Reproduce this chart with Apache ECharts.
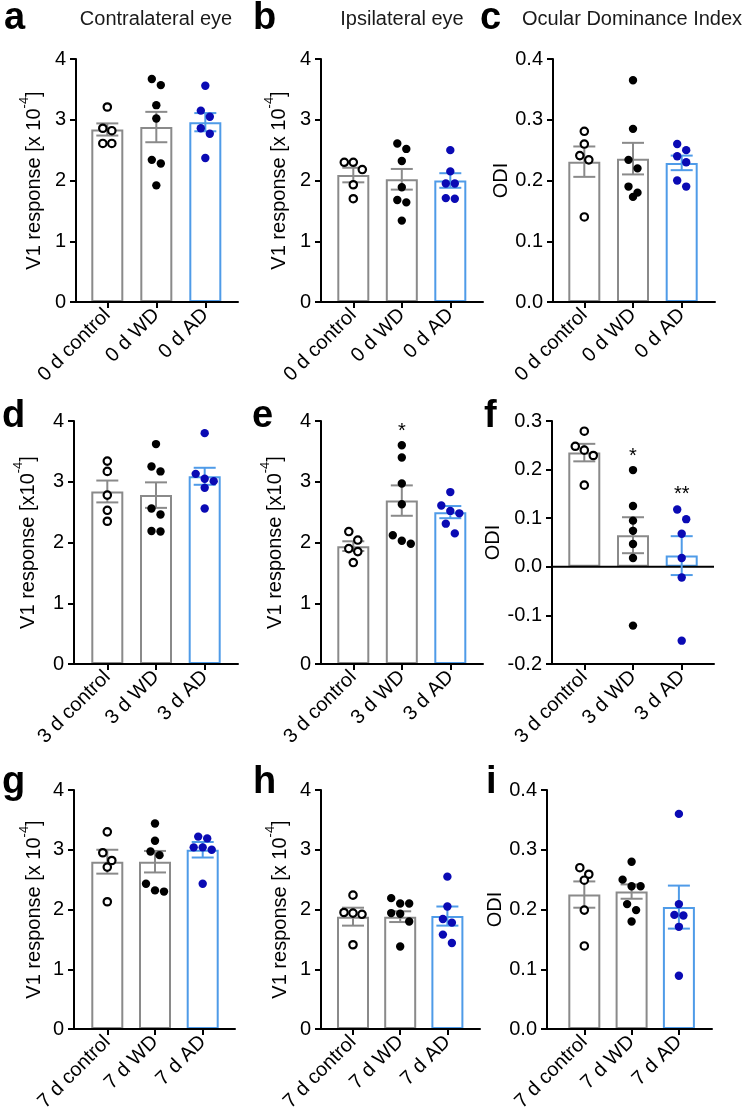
<!DOCTYPE html>
<html>
<head>
<meta charset="utf-8">
<script src="https://cdn.jsdelivr.net/npm/echarts@6/dist/echarts.min.js"></script>
<style>
html,body{margin:0;padding:0;background:#fff;}
#chart{width:745px;height:1119px;}
</style>
</head>
<body>
<div id="chart"></div>
<script>
// ---------- categories ----------
const cat0 = ['0 d control', '0 d WD', '0 d AD'];
const cat3 = ['3 d control', '3 d WD', '3 d AD'];
const cat7 = ['7 d control', '7 d WD', '7 d AD'];

// ---------- panel a (contralateral, 0 d) ----------
const aCtrl = [3.21, 2.86, 2.82, 2.61, 2.61];
const aWD   = [3.67, 3.57, 3.24, 3.02, 2.34, 2.28, 1.92];
const aAD   = [3.56, 3.15, 3.05, 2.86, 2.77, 2.37];
const aMean = [2.84, 2.88, 2.96];
const aSem  = [0.10, 0.25, 0.15];
// ---------- panel b (ipsilateral, 0 d) ----------
const bCtrl = [2.30, 2.30, 2.18, 1.93, 1.70];
const bWD   = [2.61, 2.52, 2.32, 1.89, 1.68, 1.64, 1.34];
const bAD   = [2.50, 2.15, 1.95, 1.95, 1.71, 1.70];
const bMean = [2.09, 2.02, 2.00];
const bSem  = [0.12, 0.17, 0.12];
// ---------- panel c (ODI, 0 d) ----------
const cCtrl = [0.281, 0.260, 0.241, 0.234, 0.140];
const cWD   = [0.365, 0.285, 0.234, 0.220, 0.190, 0.180, 0.173];
const cAD   = [0.260, 0.250, 0.240, 0.230, 0.200, 0.190];
const cMean = [0.231, 0.236, 0.229];
const cSem  = [0.025, 0.026, 0.012];
// ---------- panel d (contralateral, 3 d) ----------
const dCtrl = [3.34, 3.17, 2.78, 2.53, 2.35];
const dWD   = [3.62, 3.25, 3.17, 2.56, 2.46, 2.19, 2.18];
const dAD   = [3.80, 3.13, 3.05, 3.01, 2.90, 2.56];
const dMean = [2.84, 2.78, 3.09];
const dSem  = [0.18, 0.21, 0.14];
// ---------- panel e (ipsilateral, 3 d) ----------
const eCtrl = [2.18, 2.04, 1.90, 1.85, 1.67];
const eWD   = [3.60, 3.40, 2.97, 2.63, 2.12, 2.03, 1.98];
const eAD   = [2.83, 2.61, 2.52, 2.48, 2.31, 2.15];
const eMean = [1.94, 2.69, 2.50];
const eSem  = [0.08, 0.25, 0.10];
const eStarGroup = [1];
const eStarY     = [3.90];
const eStarText  = ['*'];
// ---------- panel f (ODI, 3 d) ----------
const fCtrl = [0.279, 0.248, 0.240, 0.229, 0.168];
const fWD   = [0.199, 0.125, 0.095, 0.074, 0.047, 0.018, -0.121];
const fAD   = [0.118, 0.098, 0.068, 0.018, -0.022, -0.152];
const fMean = [0.235, 0.065, 0.023];
const fSem  = [0.018, 0.037, 0.040];
const fStarGroup = [1, 2];
const fStarY     = [0.236, 0.158];
const fStarText  = ['*', '**'];
// ---------- panel g (contralateral, 7 d) ----------
const gCtrl = [3.30, 2.95, 2.82, 2.71, 2.13];
const gWD   = [3.44, 3.15, 2.97, 2.91, 2.43, 2.32, 2.30];
const gAD   = [3.22, 3.19, 3.04, 3.04, 3.00, 2.43];
const gMean = [2.80, 2.80, 3.00];
const gSem  = [0.20, 0.18, 0.13];
// ---------- panel h (ipsilateral, 7 d) ----------
const hCtrl = [2.24, 1.95, 1.94, 1.92, 1.41];
const hWD   = [2.19, 2.10, 2.10, 1.94, 1.93, 1.80, 1.38];
const hAD   = [2.55, 2.05, 1.84, 1.78, 1.58, 1.44];
const hMean = [1.88, 1.88, 1.89];
const hSem  = [0.15, 0.09, 0.16];
// ---------- panel i (ODI, 7 d) ----------
const iCtrl = [0.270, 0.259, 0.249, 0.199, 0.139];
const iWD   = [0.280, 0.250, 0.239, 0.239, 0.209, 0.199, 0.180];
const iAD   = [0.360, 0.209, 0.191, 0.190, 0.171, 0.089];
const iMean = [0.225, 0.230, 0.204];
const iSem  = [0.022, 0.012, 0.036];

// ---------- y tick settings ----------
const respTicks = {min: 0, max: 4, interval: 1, dec: 0};
const odiTicks  = {min: 0, max: 0.4, interval: 0.1, dec: 1};
const odiTicksF = {min: -0.2, max: 0.3, interval: 0.1, dec: 1};

// ---------- styles ----------
const FONT = '"Liberation Sans", Arial, Helvetica, sans-serif';
const GRAY = '#8a8a8a';
const LBLUE = '#4f9be8';
const DBLUE = '#0a0ab4';
const barCol = [GRAY, GRAY, LBLUE];

const panels = [
  {cats: cat0, pts: [aCtrl, aWD, aAD], mean: aMean, sem: aSem, ticks: respTicks, name: 'x 10', nameGap: 32,
   left: 76, top: 59, width: 162, height: 243, xmin: -0.639, xmax: 2.667},
  {cats: cat0, pts: [bCtrl, bWD, bAD], mean: bMean, sem: bSem, ticks: respTicks, name: 'x 10', nameGap: 32,
   left: 321, top: 59, width: 162, height: 243, xmin: -0.666, xmax: 2.674},
  {cats: cat0, pts: [cCtrl, cWD, cAD], mean: cMean, sem: cSem, ticks: odiTicks, name: null, nameGap: 41,
   left: 553, top: 59, width: 162, height: 243, xmin: -0.643, xmax: 2.684},
  {cats: cat3, pts: [dCtrl, dWD, dAD], mean: dMean, sem: dSem, ticks: respTicks, name: 'x10', nameGap: 36,
   left: 74, top: 421, width: 164, height: 243, xmin: -0.684, xmax: 2.684},
  {cats: cat3, pts: [eCtrl, eWD, eAD], mean: eMean, sem: eSem, ticks: respTicks, name: 'x10', nameGap: 36,
   left: 321, top: 421, width: 162, height: 243, xmin: -0.666, xmax: 2.674,
   stars: {g: eStarGroup, y: eStarY, t: eStarText}},
  {cats: cat3, pts: [fCtrl, fWD, fAD], mean: fMean, sem: fSem, ticks: odiTicksF, name: null, nameGap: 40,
   left: 552, top: 421, width: 162, height: 243, xmin: -0.663, xmax: 2.663, zero: true,
   stars: {g: fStarGroup, y: fStarY, t: fStarText}},
  {cats: cat7, pts: [gCtrl, gWD, gAD], mean: gMean, sem: gSem, ticks: respTicks, name: 'x 10', nameGap: 30,
   left: 74, top: 790, width: 161, height: 239, xmin: -0.698, xmax: 2.677},
  {cats: cat7, pts: [hCtrl, hWD, hAD], mean: hMean, sem: hSem, ticks: respTicks, name: 'x 10', nameGap: 31,
   left: 321, top: 790, width: 159, height: 239, xmin: -0.678, xmax: 2.691},
  {cats: cat7, pts: [iCtrl, iWD, iAD], mean: iMean, sem: iSem, ticks: odiTicks, name: null, nameGap: 37,
   left: 547, top: 790, width: 165, height: 239, xmin: -0.789, xmax: 2.70}
];

// simple row-based beeswarm (Prism-like spreading of overlapping dots)
function swarm(ys, thresh, spacing) {
  const idx = ys.map((y, k) => k).sort((p, q) => ys[p] - ys[q]);
  const rows = [];
  let cur = null;
  idx.forEach(k => {
    if (cur && ys[k] - ys[cur[0]] < thresh) cur.push(k);
    else { cur = [k]; rows.push(cur); }
  });
  const dx = new Array(ys.length).fill(0);
  rows.forEach(r => r.forEach((k, j) => { dx[k] = (j - (r.length - 1) / 2) * spacing; }));
  return dx;
}

const grids = [], xAxes = [], yAxes = [], series = [];
const axisLineStyle = {color: '#000', width: 2};

panels.forEach((p, i) => {
  grids.push({left: p.left, top: p.top, width: p.width, height: p.height, containLabel: false});
  xAxes.push({
    gridIndex: i, type: 'value', min: p.xmin, max: p.xmax, z: 10,
    splitLine: {show: false},
    axisLine: {show: true, onZero: false, lineStyle: axisLineStyle},
    axisTick: {show: true, customValues: [0, 1, 2], length: 6, lineStyle: axisLineStyle},
    axisLabel: {show: true, customValues: [0, 1, 2], rotate: 45, margin: 10,
      formatter: v => p.cats[Math.round(v)], fontSize: 20, color: '#000', fontFamily: FONT}
  });
  const nameRich = {
    n: {fontSize: 20, fontFamily: FONT, color: '#000', lineHeight: 26, verticalAlign: 'bottom'},
    s: {fontSize: 13, fontFamily: FONT, color: '#000', lineHeight: 13, verticalAlign: 'top'}
  };
  yAxes.push({
    gridIndex: i, type: 'value', min: p.ticks.min, max: p.ticks.max, interval: p.ticks.interval, z: 10,
    splitLine: {show: false},
    axisLine: {show: true, onZero: false, lineStyle: axisLineStyle},
    axisTick: {show: true, length: 6, lineStyle: axisLineStyle},
    axisLabel: {show: true, margin: 10, fontSize: 20, color: '#000', fontFamily: FONT,
      formatter: v => Number(v).toFixed(p.ticks.dec)},
    name: p.name ? '{n|V1 response [' + p.name + '}{s|-4}{n|]}' : '{n|ODI}',
    nameLocation: 'middle', nameRotate: 90, nameGap: p.nameGap,
    nameTextStyle: {rich: nameRich}
  });

  // bars
  series.push({
    type: 'bar', xAxisIndex: i, yAxisIndex: i, barWidth: 32, silent: true, z: 2,
    data: p.mean.map((m, g) => ({value: [g, m], itemStyle: {color: '#fff', borderColor: barCol[g], borderWidth: 2}}))
  });

  // zero line (panel f)
  if (p.zero) {
    series.push({
      type: 'custom', xAxisIndex: i, yAxisIndex: i, silent: true, z: 3,
      data: [[0, 0]], encode: {x: 0, y: 1},
      renderItem: (params, api) => {
        const a = api.coord([p.xmin, 0]);
        const b = api.coord([p.xmax, 0]);
        return {type: 'line', shape: {x1: a[0], y1: a[1], x2: b[0], y2: b[1]},
          style: {stroke: '#000', lineWidth: 2}};
      }
    });
  }

  // error bars (SEM)
  series.push({
    type: 'custom', xAxisIndex: i, yAxisIndex: i, silent: true, z: 4,
    data: p.mean.map((m, g) => [g, m, p.sem[g]]), encode: {x: 0, y: 1},
    renderItem: (params, api) => {
      const g = api.value(0), m = api.value(1), s = api.value(2);
      const t = api.coord([g, m + s]);
      const b = api.coord([g, m - s]);
      const st = {stroke: barCol[g], lineWidth: 2};
      return {type: 'group', children: [
        {type: 'line', shape: {x1: t[0], y1: t[1], x2: b[0], y2: b[1]}, style: st},
        {type: 'line', shape: {x1: t[0] - 11, y1: t[1], x2: t[0] + 11, y2: t[1]}, style: st},
        {type: 'line', shape: {x1: b[0] - 11, y1: b[1], x2: b[0] + 11, y2: b[1]}, style: st}
      ]};
    }
  });

  // individual animals
  series.push({
    type: 'custom', xAxisIndex: i, yAxisIndex: i, silent: true, z: 5,
    data: p.mean.map((m, g) => [g, m]), encode: {x: 0, y: 1},
    renderItem: (params, api) => {
      const g = api.value(0);
      const vals = p.pts[g];
      const cx = api.coord([g, 0])[0];
      const ys = vals.map(v => api.coord([g, v])[1]);
      const dx = swarm(ys, 10, 9);
      return {type: 'group', children: vals.map((v, k) => ({
        type: 'circle',
        shape: {cx: cx + dx[k], cy: ys[k], r: g === 0 ? 3.7 : 4.2},
        style: g === 0 ? {fill: '#fff', stroke: '#000', lineWidth: 2.2}
                       : {fill: g === 1 ? '#000' : DBLUE}
      }))};
    }
  });

  // significance stars
  if (p.stars) {
    series.push({
      type: 'custom', xAxisIndex: i, yAxisIndex: i, silent: true, z: 6,
      data: p.stars.g.map((g, k) => [g, p.stars.y[k]]), encode: {x: 0, y: 1},
      renderItem: (params, api) => {
        const c = api.coord([api.value(0), api.value(1)]);
        return {type: 'text', x: c[0], y: c[1] + 4,
          style: {text: p.stars.t[params.dataIndex], font: '20px ' + FONT, fill: '#000',
            align: 'center', verticalAlign: 'middle', textAlign: 'center', textVerticalAlign: 'middle'}};
      }
    });
  }
});

// panel letters and column titles
const letters = [
  ['a', 4, 19], ['b', 253, 19], ['c', 480, 19],
  ['d', 2, 417], ['e', 252, 417], ['f', 484, 417],
  ['g', 2, 783], ['h', 253, 783], ['i', 486, 783]
];
const titles = [
  ['Contralateral eye', 156, 19], ['Ipsilateral eye', 402, 19], ['Ocular Dominance Index', 632, 19]
];
const graphic = [];
letters.forEach(l => graphic.push({type: 'text', x: l[1], y: l[2], silent: true,
  style: {text: l[0], font: 'bold 38px ' + FONT, fill: '#000', align: 'left', verticalAlign: 'middle',
    textAlign: 'left', textVerticalAlign: 'middle'}}));
titles.forEach(t => graphic.push({type: 'text', x: t[1], y: t[2], silent: true,
  style: {text: t[0], font: '20px ' + FONT, fill: '#1a1a1a', align: 'center', verticalAlign: 'middle',
    textAlign: 'center', textVerticalAlign: 'middle'}}));

const chart = echarts.init(document.getElementById('chart'), null, {renderer: 'canvas'});
chart.setOption({
  animation: false,
  backgroundColor: '#fff',
  textStyle: {fontFamily: FONT},
  grid: grids,
  xAxis: xAxes,
  yAxis: yAxes,
  series: series,
  graphic: graphic
});
</script>
</body>
</html>
